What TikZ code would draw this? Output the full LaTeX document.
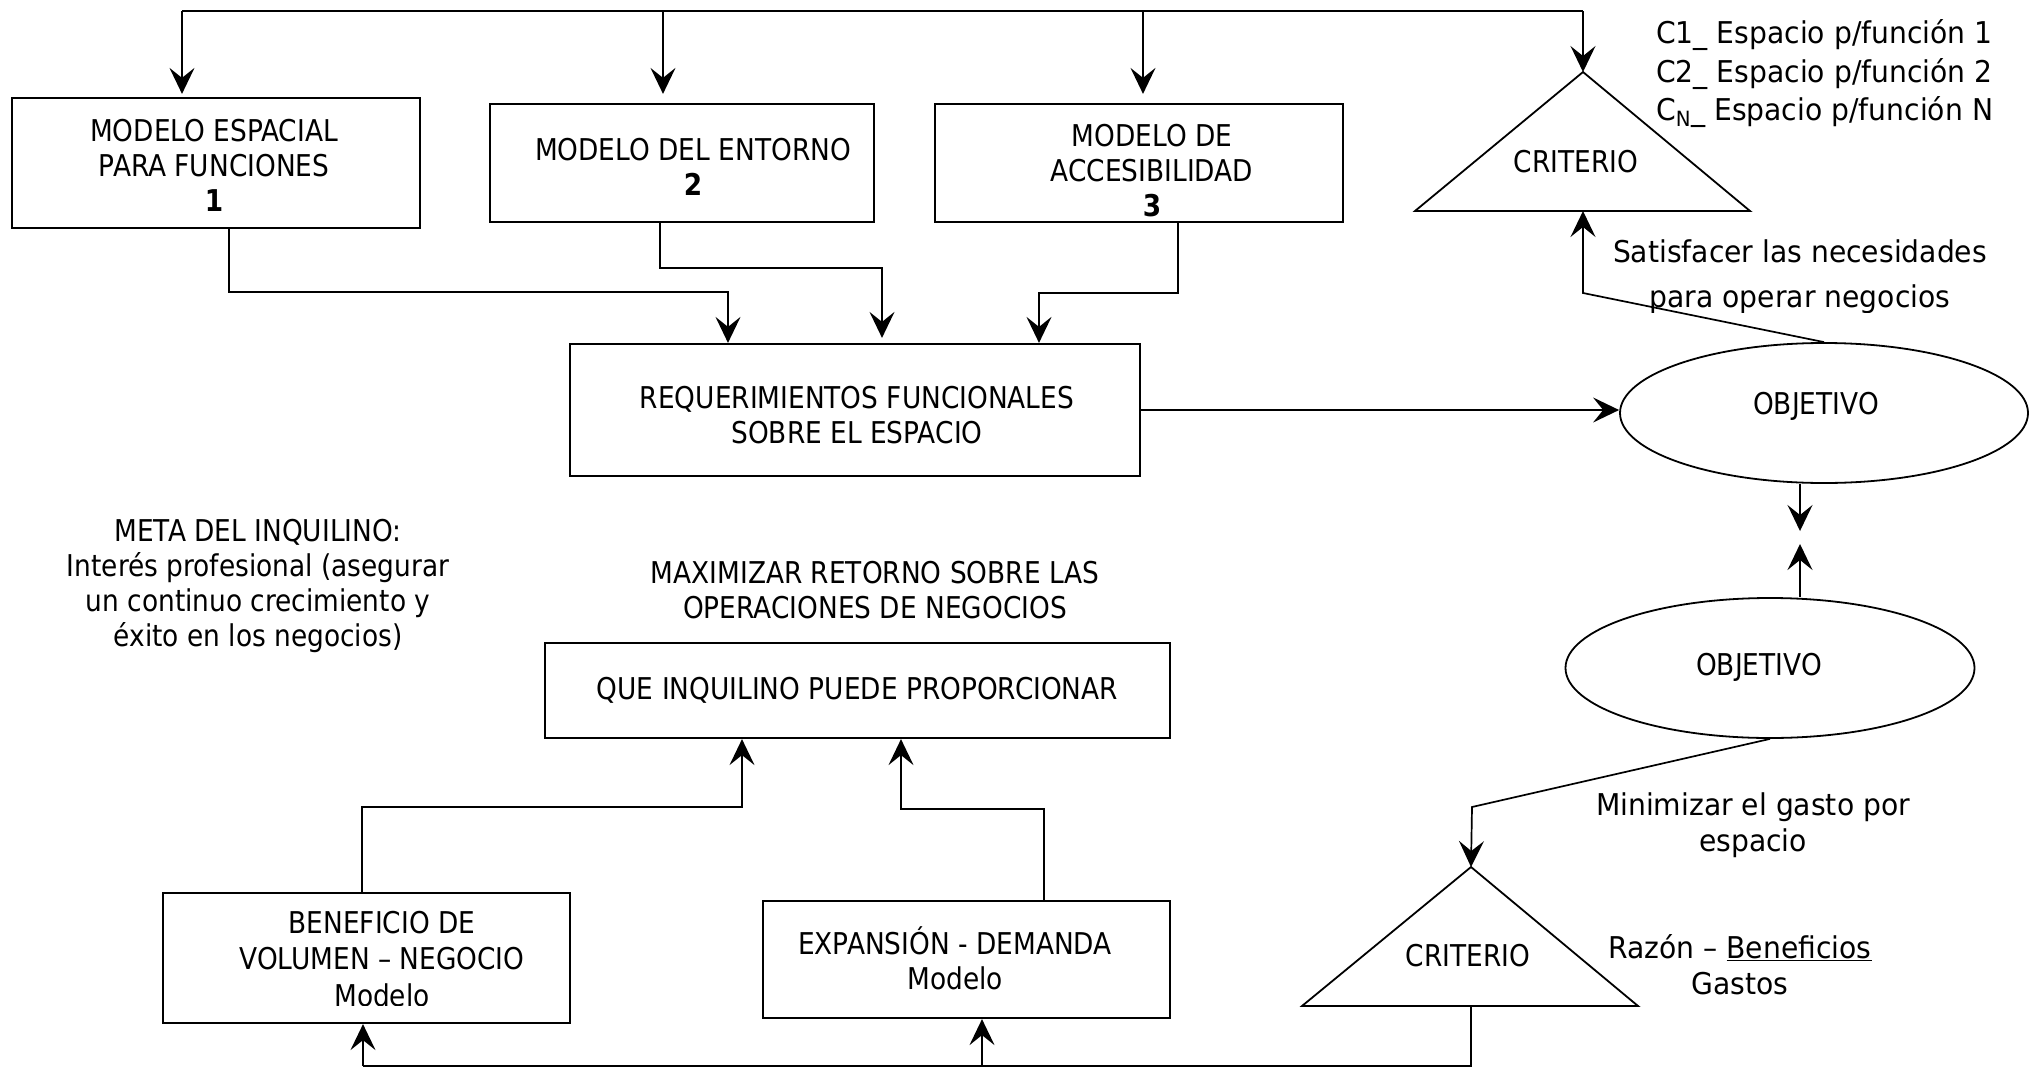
\documentclass[tikz,border=0pt]{standalone}
\usepackage{fontspec}
\setmainfont{DejaVu Sans}[FakeStretch=0.88]
\newfontfamily\widefont{DejaVu Sans}[FakeStretch=0.94]
\usetikzlibrary{arrows.meta,shapes.geometric,calc}

\newcommand\dgfont{\fontsize{30}{35}\selectfont}
\newcommand\sidefont{\widefont\fontsize{30}{36}\selectfont}

\begin{document}
\begin{tikzpicture}[x=1pt,y=-1pt,
  box/.style={draw, line width=2.2pt, rectangle, inner sep=0pt, align=center, font=\dgfont},
  oval/.style={draw, line width=1.8pt, ellipse, inner sep=0pt, font=\dgfont},
  txt/.style={inner sep=0pt, align=center, font=\dgfont},
  side/.style={inner sep=0pt, align=center, font=\sidefont},
  wire/.style={line width=1.7pt},
  arr/.style={line width=1.7pt, -{Stealth[length=26pt, width=25pt, inset=10pt]}},
  tri/.style={line width=1.8pt, line join=miter}
]
\useasboundingbox (0,0) rectangle (2040,1068);

% ---------- boxes ----------
\node[box, minimum width=408, minimum height=130] (m1) at (216,163) {};
\node[txt] (m1t) at (214,165) {MODELO ESPACIAL\\PARA FUNCIONES\\\textbf{1}};
\node[box, minimum width=384, minimum height=118] (m2) at (682,163) {};
\node[txt] (m2t) at (693,167) {MODELO DEL ENTORNO\\\textbf{2}};
\node[box, minimum width=408, minimum height=118] (m3) at (1139,163) {};
\node[txt] (m3t) at (1152,171) {MODELO DE\\ACCESIBILIDAD\\\textbf{3}};
\node[box, minimum width=570, minimum height=132] (req) at (855,410) {};
\node[txt] (reqt) at (857,415) {REQUERIMIENTOS FUNCIONALES\\SOBRE EL ESPACIO};
\node[box, minimum width=625, minimum height=95] (que) at (857.5,690.5)
  {QUE INQUILINO PUEDE PROPORCIONAR};
\node[box, minimum width=407, minimum height=130] (benef) at (366.5,958) {};
\begin{scope}
  \clip (163,880) rectangle (570,1005);
  \node[txt, font=\fontsize{30}{36.5}\selectfont] (beneft) at (382,959)
    {BENEFICIO DE\\VOLUMEN – NEGOCIO\\Modelo};
\end{scope}
\node[box, minimum width=407, minimum height=117] (expan) at (966.5,959.5) {};
\node[txt] (expant) at (955,958) {EXPANSIÓN - DEMANDA\\Modelo};

% ---------- ellipses ----------
\node[oval, minimum width=408, minimum height=140] (obj1) at (1824,413) {};
\node[txt] (obj1t) at (1816,406) {OBJETIVO};
\node[oval, minimum width=409, minimum height=140] (obj2) at (1770,668) {};
\node[txt] (obj2t) at (1759,667) {OBJETIVO};

% ---------- triangles ----------
\coordinate (t1a) at (1583,72);
\coordinate (t1l) at (1415,211);
\coordinate (t1r) at (1750,211);
\coordinate (t1m) at (1583,211);
\draw[tri] (t1a) -- (t1r) -- (t1l) -- cycle;
\node[txt] (crit1) at (1576,162) {CRITERIO};

\coordinate (t2a) at (1471,867);
\coordinate (t2l) at (1302,1006);
\coordinate (t2r) at (1638,1006);
\coordinate (t2m) at (1471,1006);
\draw[tri] (t2a) -- (t2r) -- (t2l) -- cycle;
\node[txt] (crit2) at (1468,956) {CRITERIO};

% ---------- free texts ----------
\node[txt] (meta) at (258,586)
  {META DEL INQUILINO:\\Interés profesional (asegurar\\un continuo crecimiento y\\éxito en los negocios)};
\node[txt] (maxi) at (875,590)
  {MAXIMIZAR RETORNO SOBRE LAS\\OPERACIONES DE NEGOCIOS};
\node[side, anchor=base west] (c1) at (1656,43) {C1\_ Espacio p/función 1};
\node[side, anchor=base west] (c2) at (1656,82) {C2\_ Espacio p/función 2};
\node[side, anchor=base west] (cn) at (1656,120) {C\textsubscript{N}\_ Espacio p/función N};
\node[side, anchor=base] (sat1) at (1800,262) {Satisfacer las necesidades};
\begin{scope}
  \clip (1600,270) rectangle (2040,312);
  \node[side, anchor=base] (sat2) at (1800,307) {para operar negocios};
\end{scope}
\node[side] (mini) at (1753,825) {Minimizar el gasto por\\espacio};
\node[side] (razon) at (1740,965) {Razón – \underline{Beneficios}\\Gastos};

% ---------- top distribution bus ----------
\coordinate (bA) at (182,11);
\coordinate (bB) at (663,11);
\coordinate (bC) at (1143,11);
\coordinate (bD) at (1583,11);
\draw[wire] (bA) -- (bD);
\draw[arr, shorten >=3pt] (bA) -- (bA |- m1.north);
\draw[arr, shorten >=9pt] (bB) -- (bB |- m2.north);
\draw[arr, shorten >=9pt] (bC) -- (bC |- m3.north);
\draw[arr] (bD) -- (t1a);

% ---------- models into functional requirements ----------
\coordinate (k1) at (229,292);  \coordinate (k2) at (728,292);
\draw[arr] (m1.south -| k1) -- (k1) -- (k2) -- (k2 |- req.north);
\coordinate (k3) at (660,268);  \coordinate (k4) at (882,268);
\draw[arr, shorten >=5pt] (m2.south -| k3) -- (k3) -- (k4) -- (k4 |- req.north);
\coordinate (k5) at (1178,293); \coordinate (k6) at (1039,293);
\draw[arr] (m3.south -| k5) -- (k5) -- (k6) -- (k6 |- req.north);

% ---------- requirements to objective, objective to criterion ----------
\draw[arr] (req.east) -- (req.east -| obj1.west);
\coordinate (k7) at (1583,293);
\draw[arr] (obj1.north) -- (k7) -- (t1m);

% ---------- between the two objectives ----------
\coordinate (g1) at (1800,531);
\coordinate (g2) at (1800,544);
\draw[arr] (obj1.south -| g1) -- (g1);
\draw[arr] (obj2.north -| g2) -- (g2);

% ---------- second objective to second criterion ----------
\coordinate (k8) at (1472,807);
\draw[arr] (obj2.south) -- (k8) -- (t2a);

% ---------- bottom return line ----------
\coordinate (k9) at (1471,1066);
\coordinate (k10) at (363,1066);
\coordinate (k11) at (982,1066);
\draw[wire] (t2m) -- (k9) -- (k10);
\draw[arr] (k10) -- (k10 |- benef.south);
\draw[arr] (k11) -- (k11 |- expan.south);

% ---------- models into tenant box ----------
\coordinate (k12) at (362,807);  \coordinate (k13) at (742,807);
\draw[arr] (benef.north -| k12) -- (k12) -- (k13) -- (k13 |- que.south);
\coordinate (k14) at (1044,809); \coordinate (k15) at (901,809);
\draw[arr] (expan.north -| k14) -- (k14) -- (k15) -- (k15 |- que.south);
\end{tikzpicture}
\end{document}
